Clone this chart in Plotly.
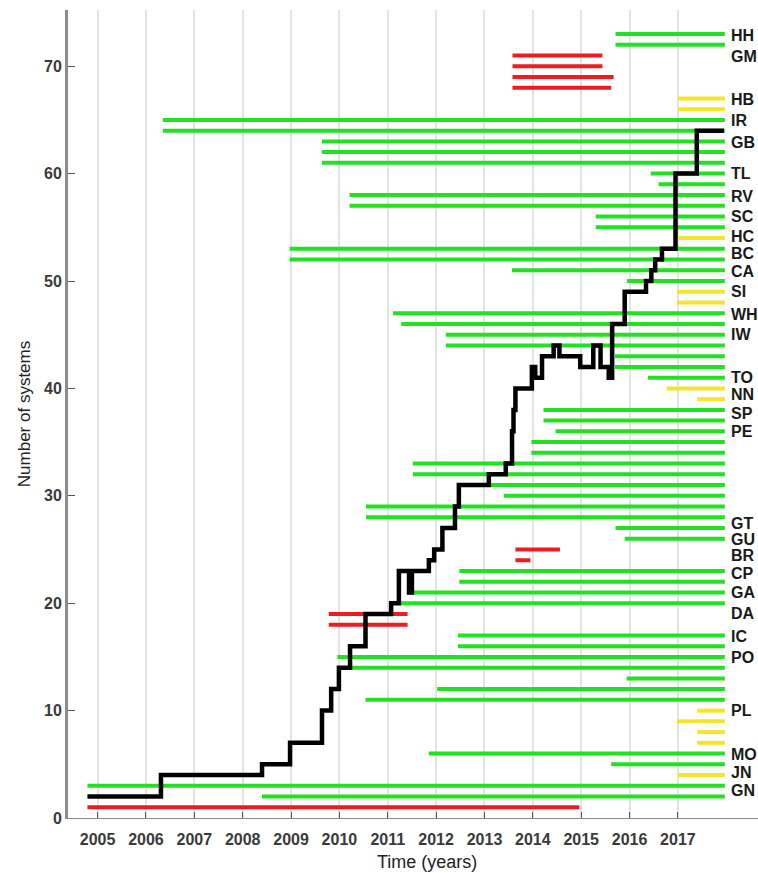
import plotly.graph_objects as go

# ---- data -------------------------------------------------------------
# One horizontal bar per system: vertical slot, start / end year, status
bar_level = list(range(1, 74))
bar_start = [
    2004.79, 2008.40, 2004.79, 2017.00, 2015.62, 2011.85, 2017.40, 2017.40, 2016.98, 2017.40,
    2010.54, 2012.02, 2015.94, 2010.20, 2009.96, 2012.45, 2012.45, 2009.78, 2009.78, 2011.25,
    2011.40, 2012.48, 2012.48, 2013.64, 2013.64, 2015.90, 2015.71, 2010.55, 2010.55, 2013.40,
    2013.00, 2011.52, 2011.52, 2013.97, 2013.97, 2014.47, 2014.22, 2014.22, 2017.40, 2016.77,
    2016.38, 2015.70, 2015.70, 2012.20, 2012.20, 2011.28, 2011.11, 2016.98, 2016.98, 2015.95,
    2013.57, 2008.97, 2008.97, 2017.01, 2015.30, 2015.30, 2010.21, 2010.21, 2016.60, 2016.44,
    2009.64, 2009.64, 2009.64, 2006.35, 2006.35, 2017.00, 2017.00, 2013.58, 2013.58, 2013.58,
    2013.58, 2015.71, 2015.71,
]
bar_end = [
    2014.96, 2017.97, 2017.97, 2017.97, 2017.97, 2017.97, 2017.97, 2017.97, 2017.97, 2017.97,
    2017.97, 2017.97, 2017.97, 2017.97, 2017.97, 2017.97, 2017.97, 2011.41, 2011.41, 2017.97,
    2017.97, 2017.97, 2017.97, 2013.95, 2014.56, 2017.97, 2017.97, 2017.97, 2017.97, 2017.97,
    2017.97, 2017.97, 2017.97, 2017.97, 2017.97, 2017.97, 2017.97, 2017.97, 2017.97, 2017.97,
    2017.97, 2017.97, 2017.97, 2017.97, 2017.97, 2017.97, 2017.97, 2017.97, 2017.97, 2017.97,
    2017.97, 2017.97, 2017.97, 2017.97, 2017.97, 2017.97, 2017.97, 2017.97, 2017.97, 2017.97,
    2017.97, 2017.97, 2017.97, 2017.97, 2017.97, 2017.97, 2017.97, 2015.62, 2015.67, 2015.44,
    2015.44, 2017.97, 2017.97,
]
# active / planned / stopped, one entry per level (1..73)
bar_status = [
    "stopped", "active", "active", "planned", "active", "active", "planned", "planned", "planned", "planned",      # 1-10
    "active", "active", "active", "active", "active", "active", "active", "stopped", "stopped", "active",          # 11-20
    "active", "active", "active", "stopped", "stopped", "active", "active", "active", "active", "active",          # 21-30
    "active", "active", "active", "active", "active", "active", "active", "active", "planned", "planned",         # 31-40
    "active", "active", "active", "active", "active", "active", "active", "planned", "planned", "active",         # 41-50
    "active", "active", "active", "planned", "active", "active", "active", "active", "active", "active",          # 51-60
    "active", "active", "active", "active", "active", "planned", "planned", "stopped", "stopped", "stopped",      # 61-70
    "stopped", "active", "active",                                                                                # 71-73
]

# Site codes written beside the bars
site_names = ["HH", "GM", "HB", "IR", "GB", "TL", "RV", "SC", "HC", "BC", "CA", "SI", "WH", "IW",
              "TO", "NN", "SP", "PE", "GT", "GU", "BR", "CP", "GA", "DA", "IC", "PO", "PL", "MO",
              "JN", "GN"]
site_levels = [72.9, 70.9, 66.9, 64.9, 62.9, 60.0, 57.9, 56.0, 54.15, 52.55, 50.9, 49.0, 46.9, 45.0,
               41.0, 39.45, 37.7, 36.0, 27.45, 25.95, 24.4, 22.8, 21.0, 19.0, 16.9, 14.9, 10.0, 5.9,
               4.2, 2.6]

# Number of systems in operation (step curve)
step_years = [2004.79, 2006.31, 2008.40, 2008.98, 2009.64, 2009.83, 2009.99, 2010.22, 2010.54,
              2011.07, 2011.23, 2011.44, 2011.50, 2011.85, 2011.96, 2012.13, 2012.39, 2012.47,
              2013.09, 2013.44, 2013.57, 2013.60, 2013.64, 2013.98, 2014.05, 2014.19, 2014.43,
              2014.55, 2014.98, 2015.25, 2015.40, 2015.57, 2015.64, 2015.90, 2016.34, 2016.45,
              2016.53, 2016.67, 2016.95, 2017.39, 2017.95]
step_counts = [2, 4, 5, 7, 10, 12, 14, 16, 19,
               20, 23, 21, 23, 24, 25, 27, 29, 31,
               32, 33, 36, 38, 40, 42, 41, 43, 44,
               43, 42, 44, 42, 41, 46, 49, 50, 51,
               52, 53, 60, 64, 64]

year_ticks = list(range(2005, 2018))
count_ticks = list(range(0, 71, 10))

# ---- styling ----------------------------------------------------------
status_color = {"active": "#22e022", "planned": "#f4e52c", "stopped": "#ec1c24"}
sans = "Liberation Sans, Arial, sans-serif"

fig = go.Figure()

for status in ["active", "planned", "stopped"]:
    xs, ys = [], []
    for lvl, s, e, st in zip(bar_level, bar_start, bar_end, bar_status):
        if st == status:
            xs += [s, e, None]
            ys += [lvl, lvl, None]
    fig.add_trace(go.Scatter(
        x=xs, y=ys, mode="lines", name=status,
        line=dict(color=status_color[status], width=4),
        hoverinfo="skip", showlegend=False,
    ))

fig.add_trace(go.Scatter(
    x=step_years, y=step_counts, mode="lines", name="systems",
    line=dict(color="#000000", width=4.5, shape="hv"),
    showlegend=False,
))

for name, lvl in zip(site_names, site_levels):
    fig.add_annotation(
        x=2018.05, y=lvl, xref="x", yref="y", text=name, showarrow=False,
        xanchor="left", yanchor="middle",
        font=dict(family=sans, size=16, color="#1a1a1a", weight="bold"),
    )

fig.add_annotation(
    x=(427 - 68) / 690, y=-0.0545, xref="paper", yref="paper",
    text="Time (years)", showarrow=False, xanchor="center", yanchor="middle",
    font=dict(family=sans, size=18, color="#222222"),
)

fig.update_layout(
    width=758, height=873,
    margin=dict(l=68, r=0, t=10, b=55),
    paper_bgcolor="white", plot_bgcolor="white",
    xaxis=dict(
        range=[2004.388, 2018.656],
        tickvals=year_ticks, ticktext=[str(y) for y in year_ticks],
        ticks="inside", ticklen=6, tickwidth=1, tickcolor="#555555",
        ticklabelstandoff=7,
        showgrid=True, gridcolor="#e4e4e4", gridwidth=1.5,
        showline=True, linecolor="#8a8a8a", linewidth=1,
        zeroline=False,
        tickfont=dict(family=sans, size=16, color="#3a3a3a", weight="bold"),
    ),
    yaxis=dict(
        range=[0, 808 / 10.74],
        tickvals=count_ticks, ticktext=[str(v) for v in count_ticks],
        ticks="inside", ticklen=7, tickwidth=1, tickcolor="#555555",
        showgrid=False, showline=True, linecolor="#8c8c8c", linewidth=3,
        zeroline=False,
        tickfont=dict(family=sans, size=16, color="#3a3a3a", weight="bold"),
        title=dict(text="Number of systems", standoff=10,
                   font=dict(family=sans, size=17, color="#222222")),
    ),
)

fig.write_html("out.html")
